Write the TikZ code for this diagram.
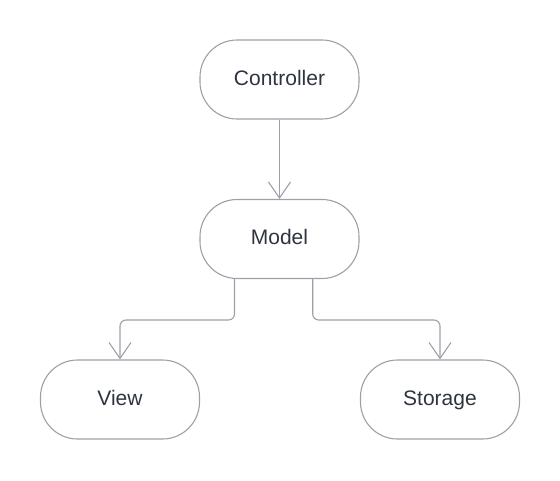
\documentclass[tikz,border=0pt]{standalone}
\usepackage{fontspec}
\setmainfont{Liberation Sans}
\usetikzlibrary{arrows.meta}
\definecolor{strokec}{HTML}{9DA0A8}
\definecolor{textc}{HTML}{2E3440}
\begin{document}
\begin{tikzpicture}[x=1pt,y=-1pt,
  box/.style={draw=strokec,line width=1.1pt,rounded corners=37pt,minimum width=159pt,minimum height=79pt,inner sep=0pt,text height=15pt,text depth=4pt,text=textc,font=\fontsize{21pt}{25pt}\selectfont,fill=white},
  conn/.style={draw=strokec,line width=1.1pt,rounded corners=6pt,-{Straight Barb[length=16pt,width=22pt,line width=1.1pt]}}]
\useasboundingbox (0,0) rectangle (560,480);
\node[box] (ctrl) at (279.5,79.5) {Controller};
\node[box] (model) at (279.5,239) {Model};
\node[box] (view) at (120,399.5) {View};
\node[box] (stor) at (440,399.5) {Storage};
\coordinate (ml) at (234.5,0);
\coordinate (mr) at (312.7,0);
\draw[conn] (ctrl.south) -- (model.north);
\draw[conn] (ml |- model.south) -- (234.5,320) -- (120,320) -- (view.north);
\draw[conn] (mr |- model.south) -- (312.7,320) -- (440,320) -- (stor.north);
\end{tikzpicture}
\end{document}
